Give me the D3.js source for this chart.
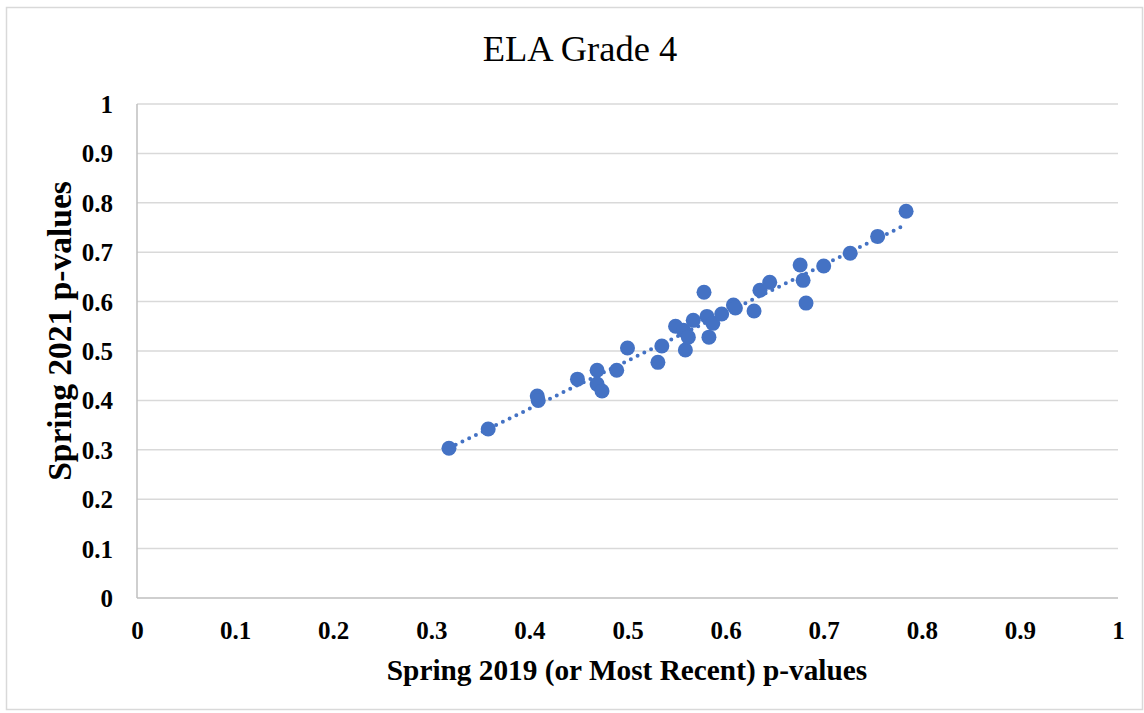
<!DOCTYPE html>
<html>
<head>
<meta charset="utf-8">
<script src="https://cdn.jsdelivr.net/npm/d3@7/dist/d3.min.js"></script>
<style>
  html, body { margin: 0; padding: 0; background: #fff; }
  svg { display: block; }
</style>
</head>
<body>
<svg id="chart" width="1144" height="713"></svg>
<script>
const titleText = "ELA Grade 4";
const xAxisTitle = "Spring 2019 (or Most Recent) p-values";
const yAxisTitle = "Spring 2021 p-values";
const tickValues = [0, 0.1, 0.2, 0.3, 0.4, 0.5, 0.6, 0.7, 0.8, 0.9, 1];
const tickLabels = ["0", "0.1", "0.2", "0.3", "0.4", "0.5", "0.6", "0.7", "0.8", "0.9", "1"];

const xValues = [0.318, 0.358, 0.408, 0.409, 0.449, 0.469, 0.469, 0.474, 0.489, 0.500,
                 0.531, 0.535, 0.549, 0.557, 0.559, 0.562, 0.567, 0.578, 0.581, 0.583,
                 0.587, 0.596, 0.608, 0.610, 0.629, 0.635, 0.645, 0.676, 0.679, 0.682,
                 0.700, 0.727, 0.755, 0.784];
const yValues = [0.303, 0.342, 0.409, 0.400, 0.443, 0.461, 0.433, 0.419, 0.461, 0.506,
                 0.477, 0.510, 0.550, 0.542, 0.502, 0.528, 0.562, 0.619, 0.570, 0.528,
                 0.556, 0.575, 0.593, 0.587, 0.581, 0.623, 0.639, 0.674, 0.643, 0.597,
                 0.672, 0.698, 0.732, 0.783];

const color = "#4472C4";
const svg = d3.select("#chart");

// outer chart border
svg.append("rect").attr("x", 6.5).attr("y", 7.5).attr("width", 1136).attr("height", 702)
  .attr("fill", "#fff").attr("stroke", "#d9d9d9").attr("stroke-width", 1.5);

const pLeft = 137, pRight = 1118, pTop = 104, pBottom = 598;
const x = d3.scaleLinear().domain([0, 1]).range([pLeft, pRight]);
const y = d3.scaleLinear().domain([0, 1]).range([pBottom, pTop]);

// gridlines
svg.append("g").selectAll("line").data(tickValues.filter(v => v > 0)).join("line")
  .attr("x1", pLeft).attr("x2", pRight)
  .attr("y1", d => y(d)).attr("y2", d => y(d))
  .attr("stroke", "#d9d9d9").attr("stroke-width", 1.5);

// axis lines
svg.append("line").attr("x1", pLeft).attr("x2", pRight).attr("y1", pBottom).attr("y2", pBottom)
  .attr("stroke", "#bfbfbf").attr("stroke-width", 1.5);
svg.append("line").attr("x1", pLeft).attr("x2", pLeft).attr("y1", pTop).attr("y2", pBottom)
  .attr("stroke", "#bfbfbf").attr("stroke-width", 1.5);

const fontFam = "'Liberation Serif', 'Times New Roman', serif";

// x axis
const xAxis = d3.axisBottom(x).tickValues(tickValues).tickFormat((d, i) => tickLabels[i]).tickSize(0).tickPadding(0);
const gx = svg.append("g").attr("transform", `translate(0,${pBottom})`).call(xAxis);
gx.select(".domain").remove();
gx.selectAll("text").attr("font-family", fontFam).attr("font-weight", "bold")
  .attr("font-size", 25).attr("fill", "#000").attr("dy", null).attr("y", 41);

// y axis
const yAxis = d3.axisLeft(y).tickValues(tickValues).tickFormat((d, i) => tickLabels[i]).tickSize(0).tickPadding(0);
const gy = svg.append("g").attr("transform", `translate(${pLeft},0)`).call(yAxis);
gy.select(".domain").remove();
gy.selectAll("text").attr("font-family", fontFam).attr("font-weight", "bold")
  .attr("font-size", 25).attr("fill", "#000").attr("x", -24).attr("dy", "0.34em");

// trendline (least squares)
const n = xValues.length;
const mx = d3.mean(xValues), my = d3.mean(yValues);
let sxy = 0, sxx = 0;
for (let i = 0; i < n; i++) { sxy += (xValues[i] - mx) * (yValues[i] - my); sxx += (xValues[i] - mx) ** 2; }
const slope = sxy / sxx, intercept = my - slope * mx;
const x0 = d3.min(xValues), x1 = d3.max(xValues);
svg.append("line")
  .attr("x1", x(x0)).attr("y1", y(intercept + slope * x0))
  .attr("x2", x(x1)).attr("y2", y(intercept + slope * x1))
  .attr("stroke", color).attr("stroke-width", 4)
  .attr("stroke-linecap", "round").attr("stroke-dasharray", "0 7.5");

// points
svg.append("g").selectAll("circle").data(xValues.map((v, i) => [v, yValues[i]])).join("circle")
  .attr("cx", d => x(d[0])).attr("cy", d => y(d[1])).attr("r", 7.5)
  .attr("fill", color);

// title
svg.append("text").attr("x", 580).attr("y", 61).attr("text-anchor", "middle")
  .attr("font-family", fontFam).attr("font-size", 36.5).attr("fill", "#000").text(titleText);

// axis titles
svg.append("text").attr("x", 627).attr("y", 680).attr("text-anchor", "middle")
  .attr("font-family", fontFam).attr("font-weight", "bold").attr("font-size", 29.3)
  .attr("fill", "#000").text(xAxisTitle);
svg.append("text").attr("transform", "translate(71,331) rotate(-90)").attr("text-anchor", "middle")
  .attr("font-family", fontFam).attr("font-weight", "bold").attr("font-size", 33.5)
  .attr("fill", "#000").text(yAxisTitle);
</script>
</body>
</html>
